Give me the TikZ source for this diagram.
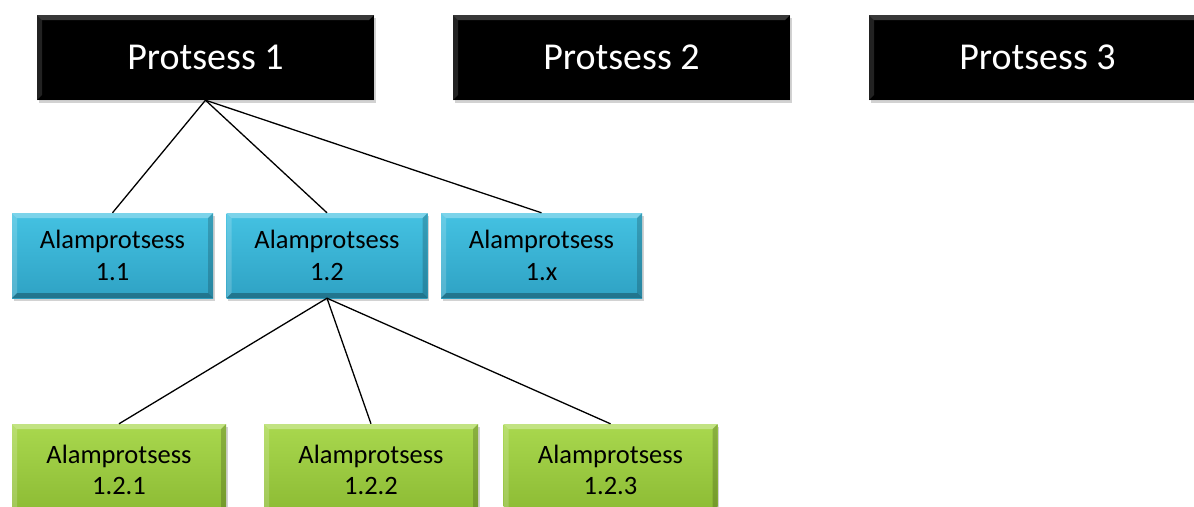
\documentclass[tikz,border=0pt]{standalone}
\usepackage{fontspec}
\setmainfont{Carlito}
\usetikzlibrary{shadows}
\definecolor{bluetop}{HTML}{44C2E2}
\definecolor{bluebot}{HTML}{2FA2C4}
\definecolor{greentop}{HTML}{A9D84E}
\definecolor{greenbot}{HTML}{8BBA33}
\tikzset{
  x={(1pt,0)}, y={(0,-1pt)},
  bevel/.style={path picture={
    \fill[white,opacity=#1]
      (path picture bounding box.north west) -- (path picture bounding box.north east)
      -- ([shift={(-5pt,-5pt)}]path picture bounding box.north east)
      -- ([shift={(5pt,-5pt)}]path picture bounding box.north west) -- cycle;
    \fill[white,opacity=#1*0.6]
      (path picture bounding box.north west) -- ([shift={(5pt,-5pt)}]path picture bounding box.north west)
      -- ([shift={(5pt,5pt)}]path picture bounding box.south west)
      -- (path picture bounding box.south west) -- cycle;
    \fill[black,opacity=0.18]
      (path picture bounding box.north east) -- ([shift={(-5pt,-5pt)}]path picture bounding box.north east)
      -- ([shift={(-5pt,5pt)}]path picture bounding box.south east)
      -- (path picture bounding box.south east) -- cycle;
    \fill[black,opacity=0.28]
      (path picture bounding box.south west) -- ([shift={(5pt,5pt)}]path picture bounding box.south west)
      -- ([shift={(-5pt,5pt)}]path picture bounding box.south east)
      -- (path picture bounding box.south east) -- cycle;
  }},
  boxbase/.style={rectangle, inner sep=0pt, align=center,
    drop shadow={opacity=0.35, shadow xshift=1.5pt, shadow yshift=-3pt}},
  procbox/.style={boxbase, fill=black, bevel=0.22, text=white,
    minimum width=337pt, minimum height=85pt,
    font=\fontsize{38}{46}\selectfont},
  subbox/.style={boxbase, top color=bluetop, bottom color=bluebot, bevel=0.3,
    text=black, minimum width=201pt, minimum height=85pt,
    font=\fontsize{26.5}{31.5}\selectfont},
  leafbox/.style={boxbase, top color=greentop, bottom color=greenbot, bevel=0.3,
    text=black, minimum width=214pt, minimum height=92pt,
    font=\fontsize{26.5}{31.5}\selectfont},
  link/.style={draw=black, line width=1.3pt}
}
\begin{document}
\begin{tikzpicture}
\useasboundingbox (0,0) rectangle (1194,506);
\clip (0,0) rectangle (1194,506);
\fill[white] (0,0) rectangle (1194,506);

% top-level processes
\node[procbox] (p1) at (205.5,57.5) {\raisebox{-2pt}{Protsess 1}};
\node[procbox] (p2) at (621.5,57.5) {\raisebox{-2pt}{Protsess 2}};
\node[procbox] (p3) at (1037.5,57.5) {\raisebox{-2pt}{Protsess 3}};

% sub-processes of process 1
\node[subbox] (s11) at (112.5,255.5) {Alamprotsess\\1.1};
\node[subbox] (s12) at (327,255.5) {Alamprotsess\\1.2};
\node[subbox] (s1x) at (541.5,255.5) {Alamprotsess\\1.x};

% sub-processes of 1.2 (they run past the lower edge)
\node[leafbox] (s121) at (119,470) {Alamprotsess\\1.2.1};
\node[leafbox] (s122) at (371,470) {Alamprotsess\\1.2.2};
\node[leafbox] (s123) at (610.5,470) {Alamprotsess\\1.2.3};

% tree connectors
\draw[link] (p1.south) -- (s11.north);
\draw[link] (p1.south) -- (s12.north);
\draw[link] (p1.south) -- (s1x.north);
\draw[link] (s12.south) -- (s121.north);
\draw[link] (s12.south) -- (s122.north);
\draw[link] (s12.south) -- (s123.north);
\end{tikzpicture}
\end{document}
